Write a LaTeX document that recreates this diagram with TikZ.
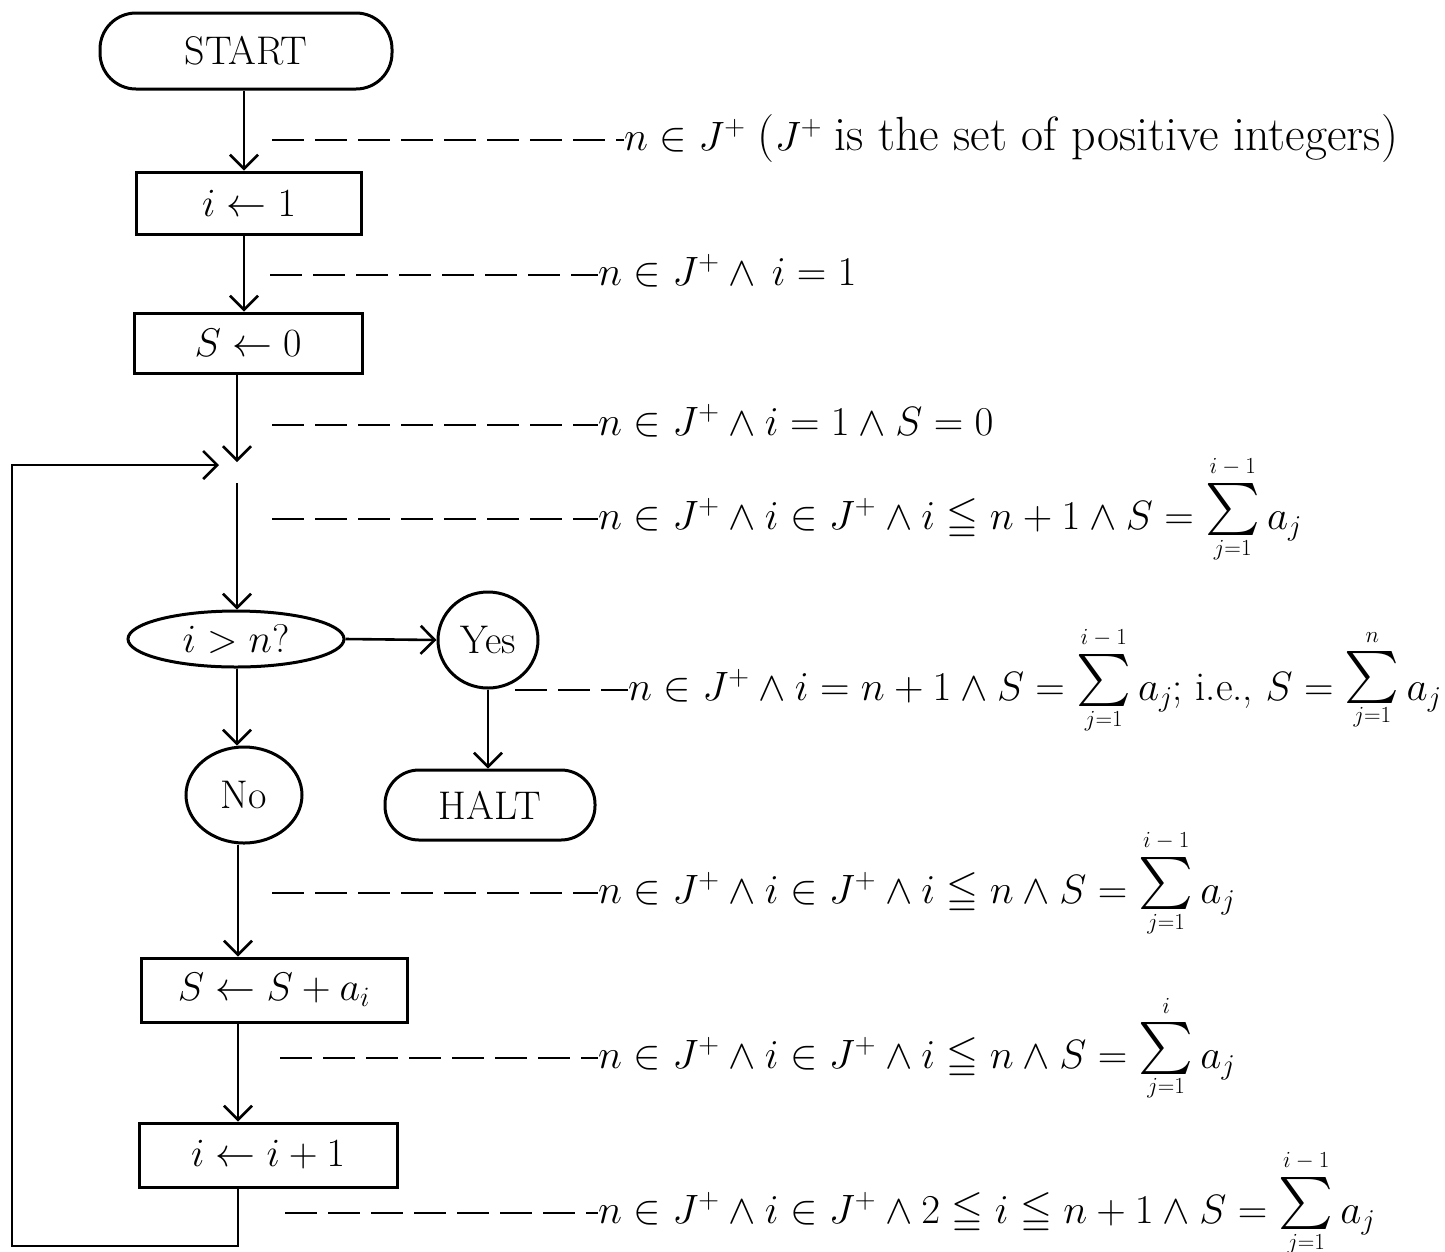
\RequirePackage{fix-cm}
\documentclass[tikz,border=0pt]{standalone}
\usepackage{amsmath,amssymb}
\usetikzlibrary{arrows.meta,shapes.geometric}
\newcommand{\limtxt}[1]{\hbox{\fontsize{23}{23}\selectfont$#1$}}
\newcommand{\Sm}[2]{\mathop{\vcenter{\offinterlineskip
  \halign{\hfil##\hfil\cr
    \limtxt{#2}\cr
    \noalign{\kern 9pt}
    \hbox{\fontsize{52}{52}\selectfont$\sum$}\cr
    \noalign{\kern 4pt}
    \limtxt{#1}\cr
    \noalign{\kern 20pt}}}}}
\newcommand{\bigtxt}{\fontsize{48}{56}\selectfont}
\begin{document}
\begin{tikzpicture}[x=1pt,y=-1pt,
  every node/.style={font=\fontsize{40}{48}\selectfont, inner sep=0pt},
  proc/.style={draw, line width=3pt, rectangle},
  term/.style={draw, line width=3pt, rectangle, rounded corners=36pt},
  oval/.style={draw, line width=3pt, ellipse},
  arr/.style={line width=2.6pt, line join=miter, -{Straight Barb[length=14pt,width=28pt,line width=2.6pt]}},
  dsh/.style={line width=2pt, dash pattern=on 32pt off 11pt},
  note/.style={anchor=base west, font=\fontsize{41}{48}\selectfont}
]
\useasboundingbox (0,0) rectangle (1445,1251);

% flowchart nodes
\node[term, minimum width=292pt, minimum height=76pt] (start) at (246,51) {START};
\node[proc, minimum width=225pt, minimum height=62pt] (i1) at (249,203) {$i \leftarrow 1$};
\node[proc, minimum width=228pt, minimum height=60pt] (s0) at (248,343) {$S \leftarrow 0$};
\node[oval, minimum width=216pt, minimum height=56pt] (test) at (236,639) {$i > n?$};
\node[oval, minimum width=100pt, minimum height=96pt] (yes) at (488,640) {Yes};
\node[oval, minimum width=116pt, minimum height=96pt] (no) at (244,795) {No};
\node[term, rounded corners=34pt, minimum width=210pt, minimum height=70pt] (halt) at (490,805) {HALT};
\node[proc, minimum width=266pt, minimum height=64pt] (sadd) at (274,990) {$S \leftarrow S + a_i$};
\node[proc, minimum width=258pt, minimum height=64pt] (inc) at (268,1155) {$i \leftarrow i + 1$};

% helper coordinates
\coordinate (ax) at (244,0);
\coordinate (jin) at (237,462);
\coordinate (jout) at (237,483);
\coordinate (lx) at (238,0);
\coordinate (bl) at (12,1246);
\coordinate (fb) at (219,465);

% connectors
\draw[arr] (start.south -| ax) -- (i1.north -| ax);
\draw[arr] (i1.south -| ax) -- (s0.north -| ax);
\draw[arr] (s0.south -| jin) -- (jin);
\draw[arr] (jout) -- (test.north -| jout);
\draw[arr] (test.south -| jout) -- (no.north -| jout);
\draw[arr] (test.east) -- (yes.west);
\draw[arr] (yes.south) -- (halt.north -| yes.south);
\draw[arr] (no.south -| lx) -- (sadd.north -| lx);
\draw[arr] (sadd.south -| lx) -- (inc.north -| lx);
\draw[arr] (inc.south -| lx) -- (lx |- bl) -- (bl) -- (bl |- fb) -- (fb);

% assertions
\node[note] (c1) at (624,150) {$n \in J^+$\ {\bigtxt(}$J^+$ {\bigtxt is the set of positive integers)}};
\coordinate (d1) at (272,140);
\draw[dsh] (d1) -- ([yshift=10pt]c1.base west);

\node[note] (c2) at (598,285) {$n \in J^+ \wedge\, i = 1$};
\coordinate (d2) at (270,275);
\draw[dsh] (d2) -- ([yshift=10pt]c2.base west);

\node[note] (c3) at (598,435) {$n \in J^+ \wedge i = 1 \wedge S = 0$};
\coordinate (d3) at (272,425);
\draw[dsh] (d3) -- ([yshift=10pt]c3.base west);

\node[note] (c4) at (598,529) {$n \in J^+ \wedge i \in J^+ \wedge i \leqq n + 1 \wedge S = \Sm{j{=}1}{i-1} a_j$};
\coordinate (d4) at (272,519);
\draw[dsh] (d4) -- ([yshift=10pt]c4.base west);

\node[note] (c5) at (628,700) {$n \in J^+ \wedge i = n + 1 \wedge S = \Sm{j{=}1}{i-1} a_j$; i.e., $S = \Sm{j{=}1}{n} a_j$};
\coordinate (d5) at (515,690);
\draw[dsh] (d5) -- ([yshift=10pt]c5.base west);

\node[note] (c6) at (598,903) {$n \in J^+ \wedge i \in J^+ \wedge i \leqq n \wedge S = \Sm{j{=}1}{i-1} a_j$};
\coordinate (d6) at (272,893);
\draw[dsh] (d6) -- ([yshift=10pt]c6.base west);

\node[note] (c7) at (598,1068) {$n \in J^+ \wedge i \in J^+ \wedge i \leqq n \wedge S = \Sm{j{=}1}{i} a_j$};
\coordinate (d7) at (280,1058);
\draw[dsh] (d7) -- ([yshift=10pt]c7.base west);

\node[note] (c8) at (598,1223) {$n \in J^+ \wedge i \in J^+ \wedge 2 \leqq i \leqq n + 1 \wedge S = \Sm{j{=}1}{i-1} a_j$};
\coordinate (d8) at (285,1213);
\draw[dsh] (d8) -- ([yshift=10pt]c8.base west);
\end{tikzpicture}
\end{document}
